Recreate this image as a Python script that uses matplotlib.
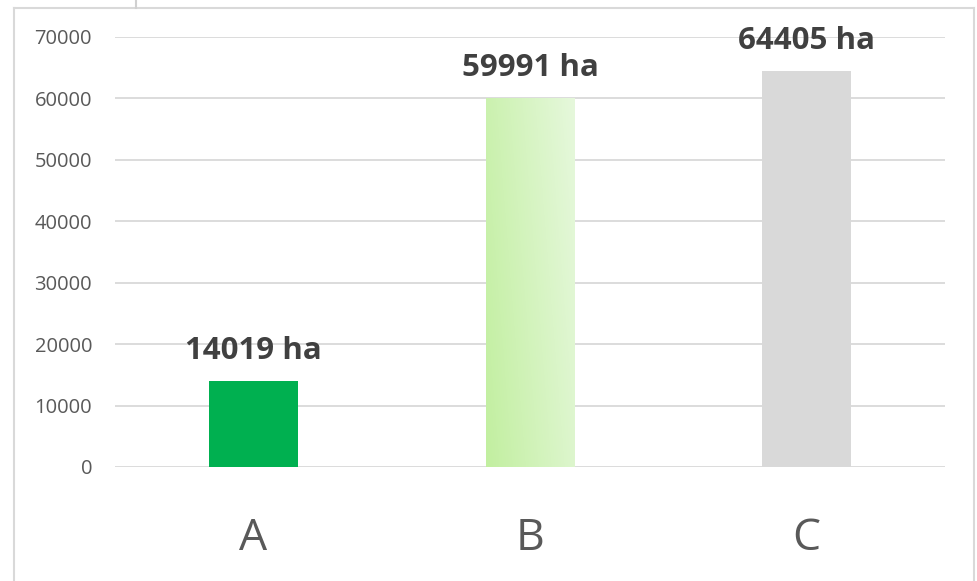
import numpy as np
import matplotlib.pyplot as plt
from matplotlib.colors import LinearSegmentedColormap
from matplotlib.lines import Line2D

# data
categories = ['A', 'B', 'C']
areas = [14019, 59991, 64405]
labels = ['14019 ha', '59991 ha', '64405 ha']
colors = ['#00b050', '#c8f0aa', '#d9d9d9']

plt.rcParams['font.family'] = ['Open Sans', 'DejaVu Sans']

fig = plt.figure(figsize=(9.77, 5.81), dpi=100)
ax = fig.add_axes([115/977, 1-467/581, 830/977, 430/581])

x = np.arange(len(categories))
bars = ax.bar(x, areas, width=0.32, color=colors, zorder=2)

# gradient fill for the middle bar
b = bars[1]
bx0, by0 = b.get_x(), b.get_y()
bw, bh = b.get_width(), b.get_height()
gx, gy = np.meshgrid(np.linspace(0, 1, 100), np.linspace(0, 1, 100))
grad = 0.75*gx + 0.25*gy
cmap = LinearSegmentedColormap.from_list('g', ['#c2efa0', '#e6f8dc'])
im = ax.imshow(grad, cmap=cmap, extent=[bx0, bx0+bw, by0, by0+bh],
               origin='lower', aspect='auto', zorder=3)
im.set_clip_path(b)

for xi, v, t in zip(x, areas, labels):
    ax.annotate(t, (xi, v), xytext=(0, 16), textcoords='offset points',
                ha='center', va='baseline', fontsize=22.5, fontweight='bold',
                color='#404040')

ax.set_xlim(-0.5, 2.5)
ax.set_ylim(0, 70000)
ax.set_yticks(np.arange(0, 70001, 10000))
ax.yaxis.grid(True, color='#d9d9d9', linewidth=1.3, zorder=0)
ax.set_axisbelow(True)
ax.set_xticks(x)
ax.set_xticklabels(categories, fontsize=32, color='#595959')
ax.tick_params(axis='x', length=0, pad=35.5)
ax.tick_params(axis='y', length=0, pad=16.5, labelsize=14.5, labelcolor='#595959')
for s in ax.spines.values():
    s.set_visible(False)

# outer chart frame
fig.add_artist(Line2D([14/977, 14/977], [0, 1-8/581], color='#d9d9d9', lw=1.5))
fig.add_artist(Line2D([14/977, 974/977], [1-8/581, 1-8/581], color='#d9d9d9', lw=1.5))
fig.add_artist(Line2D([974/977, 974/977], [0, 1-8/581], color='#d9d9d9', lw=1.5))
fig.add_artist(Line2D([136/977, 136/977], [1-8/581, 1], color='#d0d0d0', lw=1.5))

fig.savefig('out.png', dpi=100)
